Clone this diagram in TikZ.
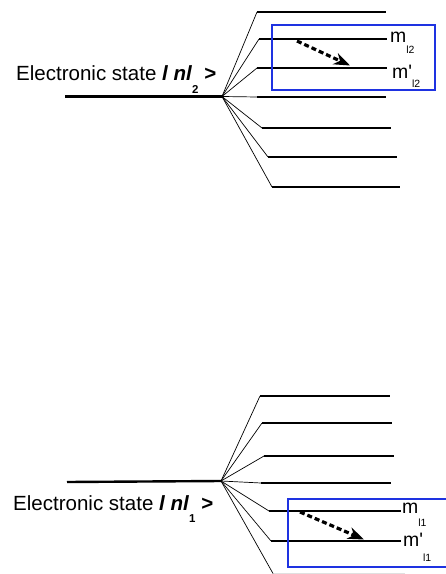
\documentclass[tikz,border=0pt]{standalone}
\usepackage{fontspec}
\setmainfont{Liberation Sans}
\newfontfamily\lblfont{Liberation Sans}
\usetikzlibrary{arrows.meta}
\definecolor{boxblue}{RGB}{30,50,225}
\tikzset{
  level/.style={line width=2bp, black},
  fanline/.style={line width=0.7bp, black},
  ground/.style={line width=2.4bp, black},
  selbox/.style={line width=2bp, draw=boxblue},
  trans/.style={line width=3.2bp, dash pattern=on 5bp off 3bp, -{Stealth[length=16bp,width=12bp,inset=5bp]}},
  statelabel/.style={inner sep=0pt, anchor=base west, font=\fontsize{20.6}{23}\selectfont},
  mlabel/.style={inner sep=0pt, anchor=base west, font=\lblfont\fontsize{19.5}{22}\selectfont},
}
\newcommand{\msub}[3]{#1\raisebox{-#3bp}{\fontsize{10.5}{11}\selectfont #2}}
\newcommand{\statesub}[1]{\raisebox{-12.5bp}{\fontsize{11.5}{12}\selectfont\bfseries #1}}
\begin{document}
\begin{tikzpicture}[x=1bp,y=-1bp]
\clip (0,0) rectangle (446,574);
\fill[white] (0,0) rectangle (446,574);

% ---------- upper manifold ----------
\coordinate (fa) at (222,96.5);
\coordinate (ga) at (65,96.5);
\foreach \i/\xl/\xr/\y in {1/257/386/12, 2/259/387/39, 3/257/387/68, 4/257/386/97, 5/262/391/128, 6/268/397/157, 7/272/400/187}{
  \coordinate (a\i l) at (\xl,\y);
  \coordinate (a\i r) at (\xr,\y);
  \draw[level] (a\i l) -- (a\i r);
  \draw[fanline] (fa) -- (a\i l);
}
\draw[ground] (ga) -- (fa);
\node[statelabel] (sa) at (16,81) {Electronic state \textbf{\textit{l nl}}\statesub{2} \textbf{>}};
\draw[selbox] (272,25) rectangle (435,90);
\coordinate (ta) at (297,41);
\coordinate (tb) at (350,65.5);
\draw[trans] (ta) -- (tb);
\node[mlabel] (ma) at (390,42.5) {\msub{m}{l2}{11}};
\node[mlabel] (mpa) at (392,79) {\msub{m'}{l2}{9}};

% ---------- lower manifold ----------
\coordinate (fb) at (221,481);
\coordinate (gb) at (67,482);
\foreach \i/\xl/\xr/\y in {1/260/390/396, 2/262/392/423, 3/264/394/456, 4/261/391/483, 5/269/401/511, 6/271/401/541}{
  \coordinate (b\i l) at (\xl,\y);
  \coordinate (b\i r) at (\xr,\y);
  \draw[level] (b\i l) -- (b\i r);
  \draw[fanline] (fb) -- (b\i l);
}
\coordinate (b7l) at (273,573.5);
\coordinate (b7r) at (405,573.5);
\draw[line width=1.5bp, black!12] (b7l) -- (b7r);
\draw[fanline] (fb) -- (b7l);
\draw[ground] (gb) -- (fb);
\node[statelabel] (sb) at (13,510) {Electronic state \textbf{\textit{l nl}}\statesub{1} \textbf{>}};
\draw[selbox] (288,499) rectangle (460,567);
\coordinate (tc) at (300,512);
\coordinate (td) at (364,539.5);
\draw[trans] (tc) -- (td);
\node[mlabel] (mb) at (402,513) {\msub{m}{l1}{13}};
\node[mlabel] (mpb) at (403,546.5) {\msub{m'}{l1}{15}};
\end{tikzpicture}
\end{document}
